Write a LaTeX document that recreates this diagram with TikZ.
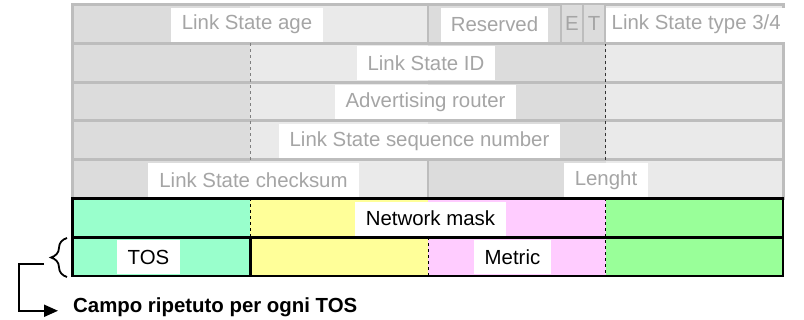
\documentclass[tikz,border=0pt]{standalone}
\usepackage{fontspec}
\setmainfont{Liberation Sans}
\usetikzlibrary{positioning,arrows.meta,decorations.pathreplacing}
\definecolor{gridgray}{HTML}{BDBDBD}
\definecolor{darkfill}{HTML}{DCDCDC}
\definecolor{lightfill}{HTML}{EAEAEA}
\definecolor{labelgray}{HTML}{A5A5A5}
\definecolor{mint}{HTML}{99FFCC}
\definecolor{paleyellow}{HTML}{FFFF99}
\definecolor{palepink}{HTML}{FFCCFF}
\definecolor{palegreen}{HTML}{99FF99}
\tikzset{
  field/.style={fill=white, inner xsep=11pt, inner ysep=0pt, minimum height=34pt,
    font=\fontsize{20.4}{24}\selectfont},
  grayfield/.style={field, text=labelgray},
  blackfield/.style={field, text=black},
  flagcell/.style={draw=gridgray, line width=2pt, fill=darkfill, text=labelgray, inner sep=0pt,
    minimum width=22pt, minimum height=38.8pt, font=\fontsize{20.4}{24}\selectfont},
}

\begin{document}
\begin{tikzpicture}[x=1pt, y=-1pt]
    \useasboundingbox (0,0) rectangle (804,320);
    \def\xa{72.7} \def\xb{250.3} \def\xc{427.9} \def\xd{605.5} \def\xe{783}
    % gray header rows
    \foreach \ytop/\ybot in {4.5/43.3, 43.3/82.1, 82.1/120.9, 120.9/159.7, 159.7/198.5} {
        \fill[darkfill] (\xa,\ytop) rectangle (\xb,\ybot);
        \fill[lightfill] (\xb,\ytop) rectangle (\xc,\ybot);
        \fill[darkfill] (\xc,\ytop) rectangle (\xd,\ybot);
        \fill[lightfill] (\xd,\ytop) rectangle (\xe,\ybot);
    }
    % coloured rows
    \foreach \ytop/\ybot in {198.5/237.3, 237.3/276.1} {
        \fill[mint] (\xa,\ytop) rectangle (\xb,\ybot);
        \fill[paleyellow] (\xb,\ytop) rectangle (\xc,\ybot);
        \fill[palepink] (\xc,\ytop) rectangle (\xd,\ybot);
        \fill[palegreen] (\xd,\ytop) rectangle (\xe,\ybot);
    }
    \draw[gridgray, line width=3pt] (\xa,4.5) rectangle (\xe,198.5);
    \foreach \y in {43.3, 82.1, 120.9, 159.7}
        \draw[gridgray, line width=3pt] (\xa,\y) -- (\xe,\y);
    \draw[gridgray, line width=2pt] (\xc,4.5) -- (\xc,43.3);
    \draw[gridgray, line width=2pt] (\xc,159.7) -- (\xc,198.5);
    \draw[gray, dashed, line width=0.7pt] (\xb,43.3) -- (\xb,159.7);
    \draw[black!80, dashed, line width=1pt] (\xd,43.3) -- (\xd,159.7);

    \node[flagcell] (flagE) at (572,23.9) {E};
    \node[flagcell] (flagT) at (594,23.9) {T};
    \node[grayfield] (age) at (247,24.7) {Link State age};
    \node[grayfield, inner xsep=10pt] (reserved) at (494.5,24.7) {Reserved};
    \node[grayfield, anchor=west, inner xsep=6pt] (lstype) at (\xd,24.7) {Link State type 3/4};
    \node[grayfield] (lsid) at (426,63.5) {Link State ID};
    \node[grayfield] (advrouter) at (425.5,102.3) {Advertising router};
    \node[grayfield] (seqnum) at (419.5,141.1) {Link State sequence number};
    \node[grayfield] (checksum) at (253.5,179.9) {Link State checksum};
    \node[grayfield] (length) at (606,179.9) {Lenght};
    \node[blackfield] (netmask) at (430.5,218.7) {Network mask};
    \node[blackfield] (tos) at (148.5,257.5) {TOS};
    \node[blackfield] (metric) at (512.5,257.5) {Metric};

    % black frame of the TOS part
    \draw[line width=2.5pt] (\xa,198.5) rectangle (\xe,276.1);
    \draw[line width=2.5pt] (\xa,237.3) -- (\xe,237.3);
    \draw[line width=2.5pt] (\xb,237.3) -- (\xb,276.1);
    \draw[dashed, line width=0.8pt] (\xb,198.5) -- (\xb,237.3);
    \draw[dashed, line width=0.8pt] (\xd,198.5) -- (\xd,276.1);
    \draw[dashed, line width=0.8pt] (\xc,237.3) -- (\xc,276.1);

    % repeated field
    \draw[decorate, decoration={brace, amplitude=16pt}, line width=1.8pt] (67,277) -- (67,238);
    \coordinate (bracetip) at (44,264);
    \node[anchor=base west, inner sep=0pt, font=\bfseries\fontsize{20.4}{24}\selectfont] (campo) at (73,313) {Campo ripetuto per ogni TOS};
    \draw[line width=2pt, -{Triangle[length=14pt,width=12pt]}] (bracetip) -- ++(-25,0) |- ([xshift=-15pt,yshift=-3pt]campo.west);
\end{tikzpicture}
\end{document}
